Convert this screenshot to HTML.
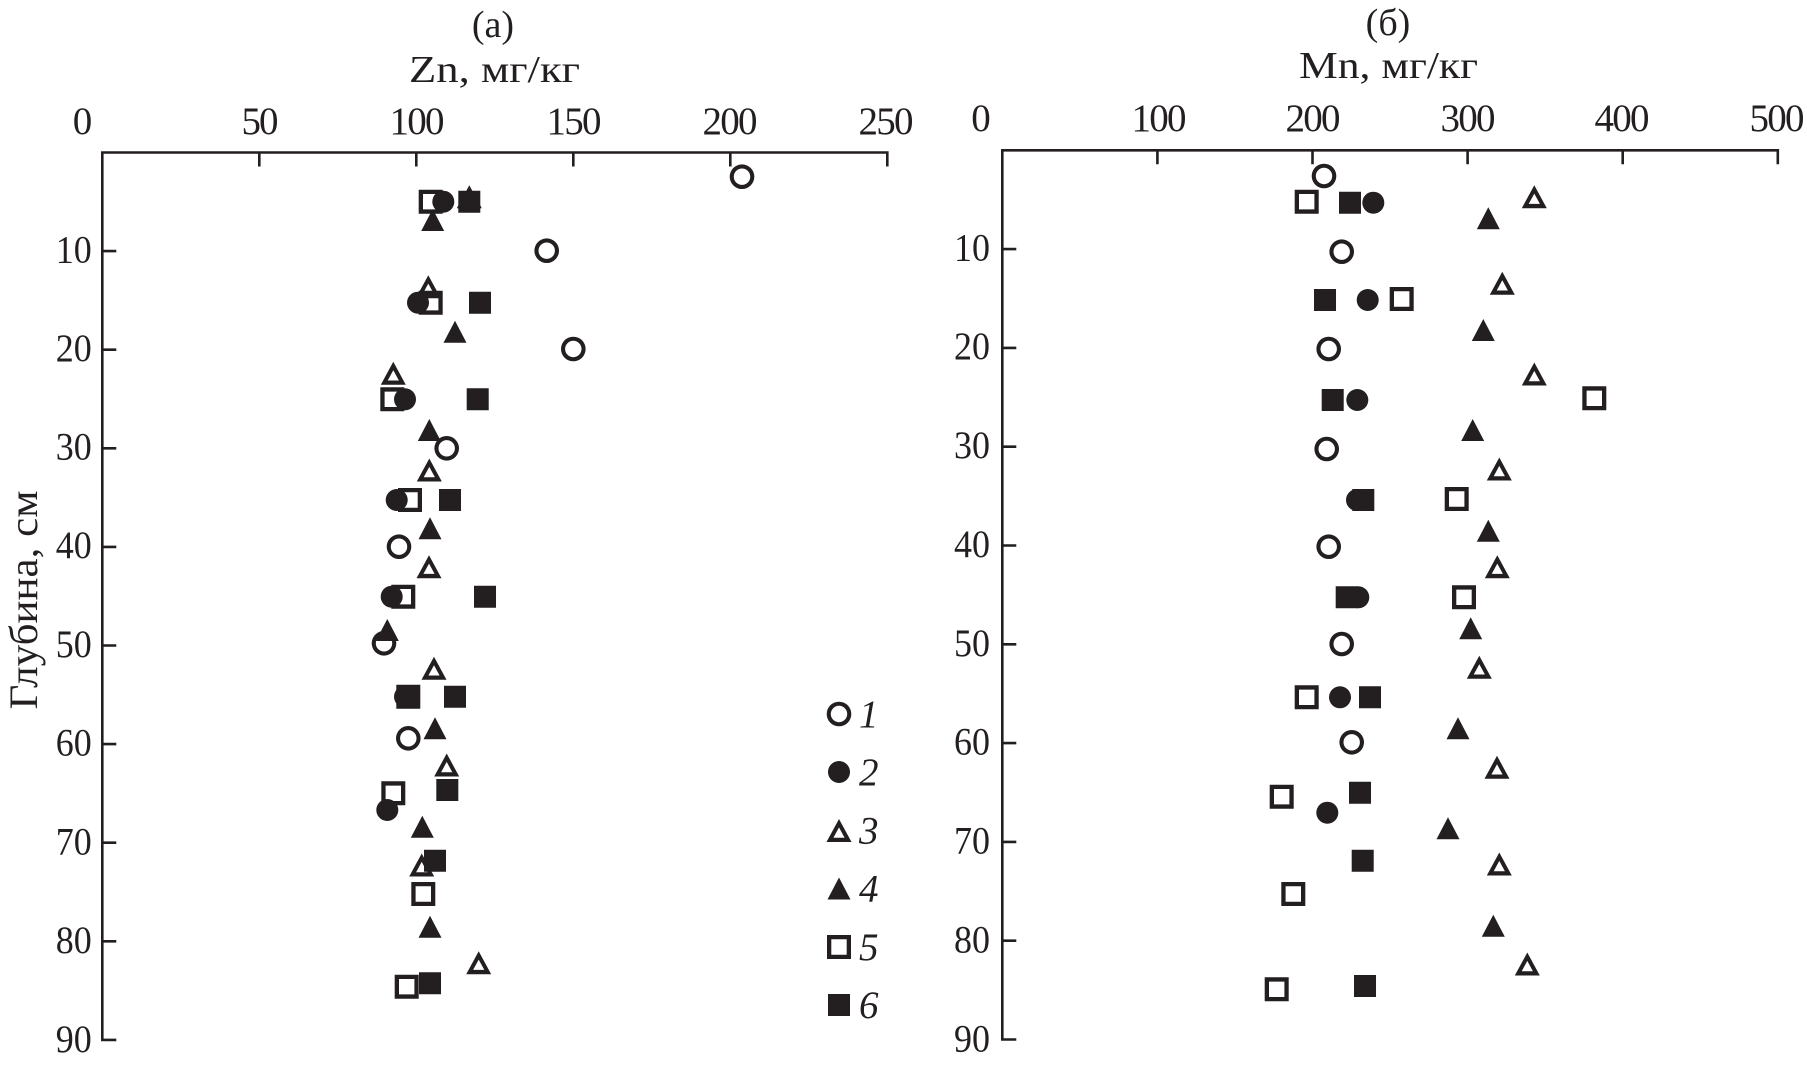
<!DOCTYPE html>
<html><head><meta charset="utf-8"><style>
html,body{margin:0;padding:0;background:#fff;}
svg{display:block;}
text{font-family:"Liberation Serif","Noto Serif CJK SC",serif;fill:#231f20;}
</style></head><body>
<svg width="1807" height="1066" viewBox="0 0 1807 1066" xmlns="http://www.w3.org/2000/svg">
<text x="493" y="37" font-size="38" text-anchor="middle">(a)</text>
<text x="494.5" y="82" font-size="38" text-anchor="middle" textLength="171" lengthAdjust="spacingAndGlyphs">Zn, мг/кг</text>
<text x="1388" y="35" font-size="38" text-anchor="middle">(б)</text>
<text x="1388.5" y="78" font-size="38" text-anchor="middle" textLength="179" lengthAdjust="spacingAndGlyphs">Mn, мг/кг</text>
<text transform="translate(37,600) rotate(-90)" font-size="40" text-anchor="middle" textLength="219" lengthAdjust="spacingAndGlyphs">Глубина, см</text>

<g stroke="#231f20" stroke-width="2.6" fill="none">
<path d="M102.3,1040V152.5H887.3M259.3,152.5v14M416.3,152.5v14M573.3,152.5v14M730.3,152.5v14M887.3,151.2v15.3"/>
<path d="M102.3,251.1h14M102.3,349.7h14M102.3,448.3h14M102.3,546.9h14M102.3,645.5h14M102.3,744.1h14M102.3,842.7h14M102.3,941.3h14M101,1039.9h15.3"/>
<path d="M1002.3,1039.5V150.3H1777.8M1157.4,150.3v14M1312.5,150.3v14M1467.6,150.3v14M1622.7,150.3v14M1777.8,149v15.3"/>
<path d="M1002.3,249.1h14M1002.3,347.9h14M1002.3,446.7h14M1002.3,545.5h14M1002.3,644.3h14M1002.3,743.1h14M1002.3,841.9h14M1002.3,940.7h14M1001,1039.5h15.3"/>
</g>

<g font-size="39" text-anchor="middle" lengthAdjust="spacingAndGlyphs">
<text x="82.5" y="134">0</text>
<text x="260" y="134" textLength="37">50</text>
<text x="417" y="134" textLength="55">100</text>
<text x="574" y="134" textLength="55">150</text>
<text x="730" y="134" textLength="55">200</text>
<text x="886" y="134" textLength="55">250</text>
<text x="981" y="131">0</text>
<text x="1159" y="131" textLength="55">100</text>
<text x="1313" y="131" textLength="55">200</text>
<text x="1468" y="131" textLength="55">300</text>
<text x="1622" y="131" textLength="55">400</text>
<text x="1777" y="131" textLength="55">500</text>
</g>
<g font-size="39" text-anchor="end">
<text x="91.7" y="262.5" textLength="36" lengthAdjust="spacingAndGlyphs">10</text>
<text x="91.7" y="361" textLength="36" lengthAdjust="spacingAndGlyphs">20</text>
<text x="91.7" y="459.5" textLength="36" lengthAdjust="spacingAndGlyphs">30</text>
<text x="91.7" y="558" textLength="36" lengthAdjust="spacingAndGlyphs">40</text>
<text x="91.7" y="657" textLength="36" lengthAdjust="spacingAndGlyphs">50</text>
<text x="91.7" y="755.5" textLength="36" lengthAdjust="spacingAndGlyphs">60</text>
<text x="91.7" y="854.5" textLength="36" lengthAdjust="spacingAndGlyphs">70</text>
<text x="91.7" y="953" textLength="36" lengthAdjust="spacingAndGlyphs">80</text>
<text x="91.7" y="1052" textLength="36" lengthAdjust="spacingAndGlyphs">90</text>
<text x="990" y="260.5" textLength="36" lengthAdjust="spacingAndGlyphs">10</text>
<text x="990" y="359" textLength="36" lengthAdjust="spacingAndGlyphs">20</text>
<text x="990" y="458" textLength="36" lengthAdjust="spacingAndGlyphs">30</text>
<text x="990" y="557" textLength="36" lengthAdjust="spacingAndGlyphs">40</text>
<text x="990" y="656" textLength="36" lengthAdjust="spacingAndGlyphs">50</text>
<text x="990" y="754.5" textLength="36" lengthAdjust="spacingAndGlyphs">60</text>
<text x="990" y="853.5" textLength="36" lengthAdjust="spacingAndGlyphs">70</text>
<text x="990" y="952.5" textLength="36" lengthAdjust="spacingAndGlyphs">80</text>
<text x="990" y="1051.5" textLength="36" lengthAdjust="spacingAndGlyphs">90</text>
</g>

<!-- series 1: open circles (black dot + white dot) -->
<path stroke="#231f20" stroke-width="24.6" stroke-linecap="round" fill="none" d="M742,176.7h.01M546.7,250.7h.01M573.3,349h.01M446.7,448.3h.01M399,546.7h.01M384,643.3h.01M408.3,738.3h.01 M1324,176h.01M1341.7,251.7h.01M1328.7,349h.01M1326.7,449h.01M1328.7,546.7h.01M1341.7,644h.01M1351.7,742.3h.01 M839,714h.01"/>
<path stroke="#fff" stroke-width="16.4" stroke-linecap="round" fill="none" d="M742,176.7h.01M546.7,250.7h.01M573.3,349h.01M446.7,448.3h.01M399,546.7h.01M384,643.3h.01M408.3,738.3h.01 M1324,176h.01M1341.7,251.7h.01M1328.7,349h.01M1326.7,449h.01M1328.7,546.7h.01M1341.7,644h.01M1351.7,742.3h.01 M839,714h.01"/>

<!-- series 3: open triangles -->
<path fill="#231f20" fill-rule="evenodd" d="M469.3,185.2l12.5,23h-25zm0,8.4l5.6,10.3h-11.2z M428.3,275.2l12.5,23h-25zm0,8.4l5.6,10.3h-11.2z M393.3,361.8l12.5,23h-25zm0,8.4l5.6,10.3h-11.2z M429.3,458.5l12.5,23h-25zm0,8.4l5.6,10.3h-11.2z M429,555.2l12.5,23h-25zm0,8.4l5.6,10.3h-11.2z M434,656.8l12.5,23h-25zm0,8.4l5.6,10.3h-11.2z M446.7,753.5l12.5,23h-25zm0,8.4l5.6,10.3h-11.2z M421.7,853.5l12.5,23h-25zm0,8.4l5.6,10.3h-11.2z M478.7,951.2l12.5,23h-25zm0,8.4l5.6,10.3h-11.2z"/>
<path fill="#231f20" fill-rule="evenodd" d="M1534.3,185.2l12.5,23h-25zm0,8.4l5.6,10.3h-11.2z M1502.3,271.8l12.5,23h-25zm0,8.4l5.6,10.3h-11.2z M1534.3,362.5l12.5,23h-25zm0,8.4l5.6,10.3h-11.2z M1499.3,457.5l12.5,23h-25zm0,8.4l5.6,10.3h-11.2z M1497.3,555.2l12.5,23h-25zm0,8.4l5.6,10.3h-11.2z M1479.3,655.8l12.5,23h-25zm0,8.4l5.6,10.3h-11.2z M1497,755.8l12.5,23h-25zm0,8.4l5.6,10.3h-11.2z M1499.3,852.5l12.5,23h-25zm0,8.4l5.6,10.3h-11.2z M1527.3,952.5l12.5,23h-25zm0,8.4l5.6,10.3h-11.2z M839,819l12.5,23h-25zm0,8.4l5.6,10.3h-11.2z"/>

<!-- series 5: open squares -->
<path fill="#231f20" fill-rule="evenodd" d="M418.7,189.7h24v24h-24zm4.3,4.3v15.4h15.4v-15.4z M418.7,290.7h24v24h-24zm4.3,4.3v15.4h15.4v-15.4z M380.3,387.3h24v24h-24zm4.3,4.3v15.4h15.4v-15.4z M398,488h24v24h-24zm4.3,4.3v15.4h15.4v-15.4z M391.3,584.7h24v24h-24zm4.3,4.3v15.4h15.4v-15.4z M396.3,684.7h24v24h-24zm4.3,4.3v15.4h15.4v-15.4z M381.3,781.3h24v24h-24zm4.3,4.3v15.4h15.4v-15.4z M411.3,882h24v24h-24zm4.3,4.3v15.4h15.4v-15.4z M394.7,974.7h24v24h-24zm4.3,4.3v15.4h15.4v-15.4z"/>
<path fill="#231f20" fill-rule="evenodd" d="M1294.7,189.7h24v24h-24zm4.3,4.3v15.4h15.4v-15.4z M1389.7,287h24v24h-24zm4.3,4.3v15.4h15.4v-15.4z M1582.3,386.3h24v24h-24zm4.3,4.3v15.4h15.4v-15.4z M1444.7,487h24v24h-24zm4.3,4.3v15.4h15.4v-15.4z M1452,585.3h24v24h-24zm4.3,4.3v15.4h15.4v-15.4z M1294.7,685.3h24v24h-24zm4.3,4.3v15.4h15.4v-15.4z M1269.7,784.7h24v24h-24zm4.3,4.3v15.4h15.4v-15.4z M1281.3,882h24v24h-24zm4.3,4.3v15.4h15.4v-15.4z M1264.7,977.3h24v24h-24zm4.3,4.3v15.4h15.4v-15.4z M827,935h24v24h-24zm4.3,4.3v15.4h15.4v-15.4z"/>

<!-- series 2: filled circles -->
<path stroke="#231f20" stroke-width="22" stroke-linecap="round" fill="none" d="M443.3,201.7h.01M418,302.7h.01M405,399.3h.01M396.7,500h.01M391.7,596.7h.01M405,696.7h.01M387.3,810h.01 M1373.3,202.7h.01M1367.7,300h.01M1357.3,400h.01M1357,500h.01M1358.3,597.3h.01M1340,697.3h.01M1327.3,812.7h.01 M839,772h.01"/>

<!-- series 4: filled triangles -->
<path fill="#231f20" d="M432.7,209l11.5,22h-23z M455,320.7l11.5,22h-23z M429.3,419l11.5,22h-23z M430,517.3l11.5,22h-23z M387.3,619l11.5,22h-23z M435,717.3l11.5,22h-23z M422.3,815.7l11.5,22h-23z M430,915.7l11.5,22h-23z M1488.3,207.3l11.5,22h-23z M1483.3,319l11.5,22h-23z M1472.7,419l11.5,22h-23z M1488.3,519.7l11.5,22h-23z M1470.7,617.3l11.5,22h-23z M1458,717.3l11.5,22h-23z M1448,817.3l11.5,22h-23z M1493.3,914.7l11.5,22h-23z M839,877.5l11.5,22h-23z"/>

<!-- series 6: filled squares -->
<path stroke="#231f20" stroke-width="22" stroke-linecap="square" fill="none" d="M469.3,201.7h.01M480,302.7h.01M477.7,399.3h.01M450,500h.01M485,596.7h.01M408.3,696.7h.01M455,696.7h.01M447.3,790h.01M435,860.7h.01M430,983.3h.01 M1350,202.7h.01M1325,300h.01M1332.7,400h.01M1363.3,500h.01M1346.7,597.3h.01M1370,697.3h.01M1360,792.7h.01M1362.7,860.7h.01M1365,986h.01 M839,1005h.01"/>

<g font-size="39" font-style="italic">
<text x="859" y="727">1</text>
<text x="859" y="785">2</text>
<text x="859" y="843.5">3</text>
<text x="859" y="901.5">4</text>
<text x="859" y="960">5</text>
<text x="859" y="1018">6</text>
</g>
</svg>
</body></html>
